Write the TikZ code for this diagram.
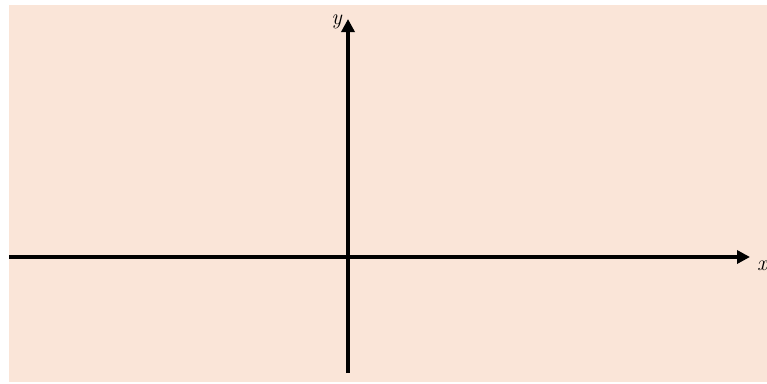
\documentclass[tikz,border=0pt]{standalone}
\usetikzlibrary{positioning, arrows.meta}
\usepackage{xcolor}
\definecolor{axbg}{HTML}{FAE5D8}
\definecolor{axline}{HTML}{000000}

\begin{document}
\begin{tikzpicture}[x=1pt, y=-1pt,
    axis/.style={draw=axline, line width=3.8pt, -{Triangle[length=13pt, width=13pt]}},
    lbl/.style={font=\fontsize{22}{26}\selectfont\itshape, inner sep=0pt}]
  \useasboundingbox (0,0) rectangle (767,383);
  \fill[axbg] (9,5) rectangle (767,382);
  \coordinate (o) at (348,257);
  \coordinate (xl) at (9,257);
  \coordinate (xr) at (750,257);
  \coordinate (yb) at (348,373);
  \coordinate (yt) at (348,19);
  \draw[axis] (xl) -- (xr);
  \draw[axis] (yb) -- (yt);
  \node[lbl, anchor=base west] (xlab) at (757,270) {x};
  \node[lbl, anchor=base east] (ylab) at (342,24) {y};
\end{tikzpicture}
\end{document}
